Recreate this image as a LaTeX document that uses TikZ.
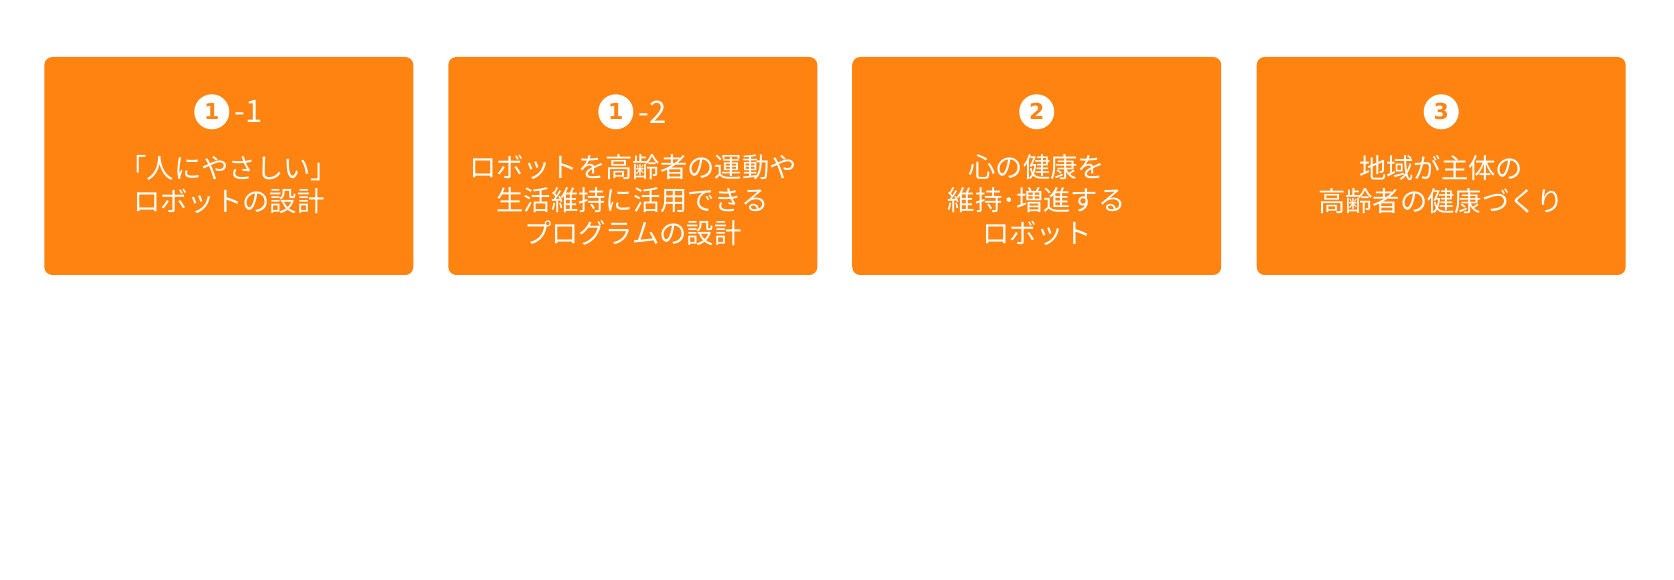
\documentclass[tikz,border=0pt]{standalone}
\usepackage{fontspec}
\setmainfont{Noto Sans CJK JP}
\newfontfamily\numfont{DejaVu Sans}
\definecolor{cardorange}{HTML}{FF8310}
\tikzset{
  card/.style={fill=cardorange, rounded corners=8pt, minimum width=369pt, minimum height=218pt, inner sep=0pt},
  badge/.style={circle, fill=white, text=cardorange, minimum size=35pt, inner sep=0pt, font=\numfont\bfseries\fontsize{22}{22}\selectfont},
  subnum/.style={text=white, inner sep=0pt, anchor=west, font=\fontsize{31}{31}\selectfont},
  caption/.style={text=white, inner sep=0pt, anchor=north, align=center, font=\fontsize{27.3}{33}\selectfont},
}
\begin{document}
\begin{tikzpicture}[x=1pt,y=-1pt]
  \useasboundingbox (0,0) rectangle (1674,580);
  % four cards
  \node[card] (c1) at (228.8,166) {};
  \node[card] (c2) at (632.8,166) {};
  \node[card] (c3) at (1036.7,166) {};
  \node[card] (c4) at (1441.2,166) {};
  % numbers
  \node[badge] (n1) at ([xshift=-17pt,yshift=-55pt]c1.north) {1};
  \node[subnum] (s1) at ([xshift=5pt]n1.east) {-1};
  \node[badge] (n2) at ([xshift=-17pt,yshift=-55pt]c2.north) {1};
  \node[subnum] (s2) at ([xshift=5pt]n2.east) {-2};
  \node[badge] (n3) at ([yshift=-55pt]c3.north) {2};
  \node[badge] (n4) at ([yshift=-55pt]c4.north) {3};
  % captions
  \node[caption] (t1) at ([yshift=-98pt]c1.north) {「人にやさしい」\\ロボットの設計};
  \node[caption] (t2) at ([yshift=-98pt]c2.north) {ロボットを高齢者の運動や\\生活維持に活用できる\\プログラムの設計};
  \node[caption] (t3) at ([yshift=-98pt]c3.north) {心の健康を\\維持･増進する\\ロボット};
  \node[caption] (t4) at ([yshift=-98pt]c4.north) {地域が主体の\\高齢者の健康づくり};
\end{tikzpicture}
\end{document}
